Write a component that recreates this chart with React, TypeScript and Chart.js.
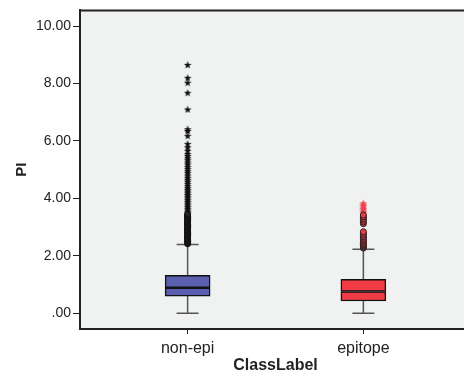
import React, { useEffect, useRef } from "react";
import { Chart, registerables } from "chart.js";

Chart.register(...registerables);

const categories = ["non-epi", "epitope"];
const categoryPos = [1, 2];
const whiskerLow = [0, 0];
const q1 = [0.6, 0.43];
const median = [0.89, 0.76];
const q3 = [1.32, 1.18];
const whiskerHigh = [2.4, 2.23];
const yTicks = [0, 2, 4, 6, 8, 10];

const nonEpiOutliers = [
  2.42, 2.46, 2.5, 2.54, 2.58, 2.62, 2.66, 2.7, 2.74, 2.78, 2.82, 2.86, 2.9,
  2.94, 2.98, 3.02, 3.06, 3.1, 3.14, 3.18, 3.22, 3.26, 3.3, 3.34, 3.38, 3.42, 3.46,
];
const nonEpiExtremes = [
  3.52, 3.58, 3.64, 3.7, 3.76, 3.82, 3.88, 3.94, 4.0, 4.06, 4.12, 4.18, 4.24,
  4.3, 4.36, 4.43, 4.5, 4.58, 4.65, 4.72, 4.8, 4.88, 4.95, 5.03, 5.1, 5.18,
  5.25, 5.33, 5.4, 5.48, 5.55, 5.66, 5.78, 5.9, 6.18, 6.35, 6.41, 7.1, 7.68,
  8.03, 8.2, 8.65,
];
const epitopeOutliers = [
  2.27, 2.31, 2.35, 2.39, 2.43, 2.47, 2.51, 2.56, 2.61, 2.66, 2.72, 2.78,
  2.84, 3.12, 3.18, 3.24, 3.3, 3.36, 3.42,
];
const epitopeExtremes = [3.48, 3.53, 3.58, 3.63, 3.68, 3.73, 3.78, 3.83];

const boxColors = ["#5a5fb0", "#f03a44"];
const FONT = "'Liberation Sans', Arial, sans-serif";

function makeStar(color: string): HTMLCanvasElement {
  const c = document.createElement("canvas");
  c.width = 8;
  c.height = 8;
  const g = c.getContext("2d")!;
  g.fillStyle = color;
  g.beginPath();
  for (let i = 0; i < 10; i++) {
    const r = i % 2 === 0 ? 4 : 1.7;
    const a = -Math.PI / 2 + (i * Math.PI) / 5;
    const px = 4 + r * Math.cos(a);
    const py = 4.3 + r * Math.sin(a);
    if (i === 0) g.moveTo(px, py);
    else g.lineTo(px, py);
  }
  g.closePath();
  g.fill();
  return c;
}

const bgPlugin = {
  id: "plotBg",
  beforeDraw(chart: any) {
    const { ctx, chartArea } = chart;
    ctx.save();
    ctx.fillStyle = "#f0f2f2";
    ctx.fillRect(chartArea.left, chartArea.top, chartArea.right - chartArea.left, chartArea.bottom - chartArea.top);
    ctx.restore();
  },
  afterDraw(chart: any) {
    const { ctx, chartArea } = chart;
    ctx.save();
    ctx.strokeStyle = "#222";
    ctx.lineWidth = 2;
    ctx.beginPath();
    ctx.moveTo(chartArea.left, chartArea.top);
    ctx.lineTo(chartArea.right, chartArea.top);
    ctx.stroke();
    ctx.restore();
  },
};

const whiskerPlugin = {
  id: "whiskers",
  beforeDatasetsDraw(chart: any) {
    const { ctx } = chart;
    const xs = chart.scales.x;
    const ys = chart.scales.y;
    ctx.save();
    ctx.strokeStyle = "#555";
    ctx.lineWidth = 1.5;
    categoryPos.forEach((p, i) => {
      const cx = xs.getPixelForValue(p);
      const half = 11;
      ctx.beginPath();
      ctx.moveTo(cx, ys.getPixelForValue(whiskerLow[i]));
      ctx.lineTo(cx, ys.getPixelForValue(q1[i]));
      ctx.moveTo(cx, ys.getPixelForValue(q3[i]));
      ctx.lineTo(cx, ys.getPixelForValue(whiskerHigh[i]));
      ctx.moveTo(cx - half, ys.getPixelForValue(whiskerLow[i]));
      ctx.lineTo(cx + half, ys.getPixelForValue(whiskerLow[i]));
      ctx.moveTo(cx - half, ys.getPixelForValue(whiskerHigh[i]));
      ctx.lineTo(cx + half, ys.getPixelForValue(whiskerHigh[i]));
      ctx.stroke();
    });
    ctx.restore();
  },
};

export default function App() {
  const ref = useRef<HTMLCanvasElement>(null);
  useEffect(() => {
    document.body.style.margin = "0";
    document.body.style.overflow = "hidden";
    document.documentElement.style.overflow = "hidden";
    const blackStar = makeStar("#111");
    const redStar = makeStar("#f04450");
    const chart = new Chart(ref.current!, {
      type: "bar",
      data: {
        datasets: [
          {
            type: "scatter",
            data: nonEpiOutliers.map((v) => ({ x: categoryPos[0], y: v })),
            pointStyle: "circle",
            pointRadius: 3,
            backgroundColor: "#222",
            borderColor: "#111",
            borderWidth: 1,
            order: 1,
          } as any,
          {
            type: "scatter",
            data: nonEpiExtremes.map((v) => ({ x: categoryPos[0], y: v })),
            pointStyle: blackStar,
            order: 1,
          } as any,
          {
            type: "scatter",
            data: epitopeOutliers.map((v) => ({ x: categoryPos[1], y: v })),
            pointStyle: "circle",
            pointRadius: 3,
            backgroundColor: "#f03a44",
            borderColor: "#222",
            borderWidth: 1,
            order: 1,
          } as any,
          {
            type: "scatter",
            data: epitopeExtremes.map((v) => ({ x: categoryPos[1], y: v })),
            pointStyle: redStar,
            order: 1,
          } as any,
          {
            type: "bar",
            data: categoryPos.map((p, i) => ({ x: p, y: [q1[i], median[i]] })),
            backgroundColor: boxColors,
            borderColor: "#111",
            borderWidth: 1.5,
            borderSkipped: false,
            barThickness: 45,
            grouped: false,
            order: 2,
          } as any,
          {
            type: "bar",
            data: categoryPos.map((p, i) => ({ x: p, y: [median[i], q3[i]] })),
            backgroundColor: boxColors,
            borderColor: "#111",
            borderWidth: 1.5,
            borderSkipped: false,
            barThickness: 45,
            grouped: false,
            order: 2,
          } as any,
        ],
      },
      options: {
        responsive: false,
        animation: false,
        layout: { padding: { top: 10, right: 0, left: 0, bottom: 0 } },
        plugins: { legend: { display: false }, tooltip: { enabled: false } },
        scales: {
          x: {
            type: "linear",
            offset: false,
            min: 0.3876,
            max: 2.6124,
            afterBuildTicks: (s: any) => {
              s.ticks = categoryPos.map((v) => ({ value: v }));
            },
            afterFit: (s: any) => {
              s.height = 52;
            },
            ticks: {
              autoSkip: false,
              maxRotation: 0,
              padding: 5,
              color: "#222",
              font: { family: FONT, size: 16 },
              callback: (v: any) => categories[categoryPos.indexOf(Number(v))] ?? "",
            },
            grid: { offset: false, drawOnChartArea: false, drawTicks: true, tickLength: 5, tickColor: "#222", tickWidth: 1 },
            border: { display: true, color: "#222", width: 2 },
            title: {
              display: true,
              text: "ClassLabel",
              color: "#222",
              font: { family: FONT, size: 16, weight: "bold" },
              padding: { top: 0, bottom: 6 },
            },
          },
          y: {
            type: "linear",
            min: -0.546,
            max: 10.546,
            afterBuildTicks: (s: any) => {
              s.ticks = yTicks.map((v) => ({ value: v }));
            },
            afterFit: (s: any) => {
              s.width = 80;
            },
            ticks: {
              padding: 2,
              color: "#222",
              font: { family: FONT, size: 14 },
              callback: (v: any) => (Number(v) === 0 ? ".00" : Number(v).toFixed(2)),
            },
            grid: { drawOnChartArea: false, drawTicks: true, tickLength: 7, tickColor: "#222", tickWidth: 1 },
            border: { display: true, color: "#222", width: 2 },
            title: {
              display: true,
              text: "PI",
              color: "#222",
              font: { family: FONT, size: 15, weight: "bold" },
              padding: { top: 13, bottom: 0 },
            },
          },
        },
      },
      plugins: [bgPlugin, whiskerPlugin],
    } as any);
    return () => chart.destroy();
  }, []);
  return <canvas ref={ref} width={476} height={381} style={{ display: "block" }} />;
}
